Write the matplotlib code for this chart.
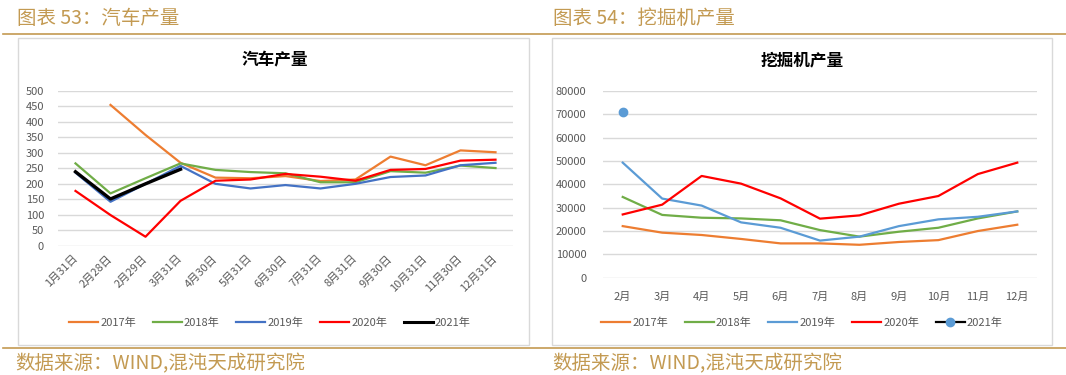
import numpy as np
import matplotlib
matplotlib.use("Agg")
import matplotlib.pyplot as plt
from matplotlib.lines import Line2D
from matplotlib.patches import Rectangle

plt.rcParams['font.family'] = ['Noto Sans CJK SC', 'DejaVu Sans']

# ---- 汽车产量 (万辆) ----
car_dates = ["1月31日", "2月28日", "2月29日", "3月31日", "4月30日", "5月31日", "6月30日",
             "7月31日", "8月31日", "9月30日", "10月31日", "11月30日", "12月31日"]
car_2017 = [np.nan, 455, 358, 268, 220, 218, 225, 209, 214, 288, 260, 308, 302]
car_2018 = [266, 169, 218, 266, 245, 238, 234, 205, 205, 241, 236, 259, 251]
car_2019 = [236, 142, 200, 258, 200, 185, 196, 185, 200, 222, 227, 260, 268]
car_2020 = [177, 99, 29, 145, 210, 214, 232, 223, 210, 245, 248, 275, 278]
car_2021 = [239, 151, 200, 247] + [np.nan] * 9

# ---- 挖掘机产量 (台) ----
exc_months = ["2月", "3月", "4月", "5月", "6月", "7月", "8月", "9月", "10月", "11月", "12月"]
exc_2017 = [22100, 19300, 18300, 16600, 14700, 14700, 14100, 15300, 16100, 20000, 22700]
exc_2018 = [34600, 26900, 25700, 25400, 24600, 20400, 17600, 19700, 21400, 25400, 28400]
exc_2019 = [49300, 33900, 30900, 23700, 21400, 15900, 17600, 22100, 25000, 26100, 28400]
exc_2020 = [27100, 31300, 43600, 40300, 34000, 25300, 26700, 31700, 35000, 44400, 49300]
exc_2021 = [71000] + [np.nan] * 10

W, H = 1066, 375
fig = plt.figure(figsize=(W / 100, H / 100), dpi=100)

gold = "#C39A52"
grid_c = "#D9D9D9"
tick_c = "#595959"


def fx(px):
    return px / W


def fy(py):
    return 1 - py / H


# header / footer lines and frames
for y in (34, 348):
    fig.add_artist(Line2D([fx(3), 1], [fy(y), fy(y)], color=gold, lw=1.2))
for x0, x1 in ((18, 529), (552, 1052)):
    fig.add_artist(Rectangle((fx(x0), fy(345)), fx(x1 - x0), (345 - 38) / H,
                             fill=False, edgecolor=grid_c, lw=1.0))

fig.text(fx(17), fy(18), "图表 53：汽车产量", color=gold, fontsize=14, va="center")
fig.text(fx(553), fy(18), "图表 54：挖掘机产量", color=gold, fontsize=14, va="center")
fig.text(fx(15), fy(364), "数据来源：WIND,混沌天成研究院", color=gold, fontsize=14, va="center")
fig.text(fx(552), fy(364), "数据来源：WIND,混沌天成研究院", color=gold, fontsize=14, va="center")


def style(ax):
    for s in ax.spines.values():
        s.set_visible(False)
    ax.grid(axis="y", color=grid_c, lw=1.0)
    ax.set_axisbelow(True)
    ax.tick_params(length=0, colors=tick_c, labelsize=8)


# ---- left chart ----
ax1 = fig.add_axes([fx(58), fy(245.7), fx(455), 154.7 / H])
style(ax1)
x1 = np.arange(len(car_dates))
ax1.plot(x1, car_2017, color="#ED7D31", lw=1.6)
ax1.plot(x1, car_2018, color="#70AD47", lw=1.6)
ax1.plot(x1, car_2019, color="#4472C4", lw=1.6)
ax1.plot(x1, car_2020, color="#FF0000", lw=1.6)
ax1.plot(x1, car_2021, color="#000000", lw=2.4)
ax1.set_xlim(-0.5, len(car_dates) - 0.5)
ax1.set_ylim(0, 500)
ax1.set_yticks(np.arange(0, 501, 50))
ax1.set_xticks(x1)
ax1.set_xticklabels(car_dates, rotation=45, ha="right", va="center",
                    rotation_mode="anchor", fontsize=8)
ax1.tick_params(axis="x", pad=8)
ax1.tick_params(axis="y", pad=10)
fig.text(fx(275), fy(60), "汽车产量", fontsize=12, fontweight="bold", ha="center", va="center")

h1 = [Line2D([], [], color=c, lw=1.6) for c in ("#ED7D31", "#70AD47", "#4472C4", "#FF0000")]
h1.append(Line2D([], [], color="#000000", lw=2.2))
fig.legend(h1, ["2017年", "2018年", "2019年", "2020年", "2021年"], ncol=5,
           loc="center", bbox_to_anchor=(fx(270), fy(323)), frameon=False,
           fontsize=8, labelcolor=tick_c, handlelength=2.6, handletextpad=0.2,
           columnspacing=1.5)

# ---- right chart ----
ax2 = fig.add_axes([fx(603), fy(277.7), fx(434), 186.7 / H])
style(ax2)
x2 = np.arange(len(exc_months))
ax2.plot(x2, exc_2017, color="#ED7D31", lw=1.6)
ax2.plot(x2, exc_2018, color="#70AD47", lw=1.6)
ax2.plot(x2, exc_2019, color="#5B9BD5", lw=1.6)
ax2.plot(x2, exc_2020, color="#FF0000", lw=1.6)
ax2.plot(x2, exc_2021, color="#000000", lw=1.6, marker="o", ms=6,
         mfc="#5B9BD5", mec="#5B9BD5")
ax2.set_xlim(-0.5, len(exc_months) - 0.5)
ax2.set_ylim(0, 80000)
ax2.set_yticks(np.arange(0, 80001, 10000))
ax2.set_xticks(x2)
ax2.set_xticklabels(exc_months)
ax2.tick_params(axis="x", pad=10)
ax2.tick_params(axis="y", pad=12)
fig.text(fx(802), fy(60), "挖掘机产量", fontsize=12, fontweight="bold", ha="center", va="center")

h2 = [Line2D([], [], color=c, lw=1.6) for c in ("#ED7D31", "#70AD47", "#5B9BD5", "#FF0000")]
h2.append(Line2D([], [], color="#000000", lw=1.6, marker="o", ms=6,
                 mfc="#5B9BD5", mec="#5B9BD5"))
fig.legend(h2, ["2017年", "2018年", "2019年", "2020年", "2021年"], ncol=5,
           loc="center", bbox_to_anchor=(fx(802), fy(323)), frameon=False,
           fontsize=8, labelcolor=tick_c, handlelength=2.6, handletextpad=0.2,
           columnspacing=1.5)

fig.savefig("out.png", dpi=100)
